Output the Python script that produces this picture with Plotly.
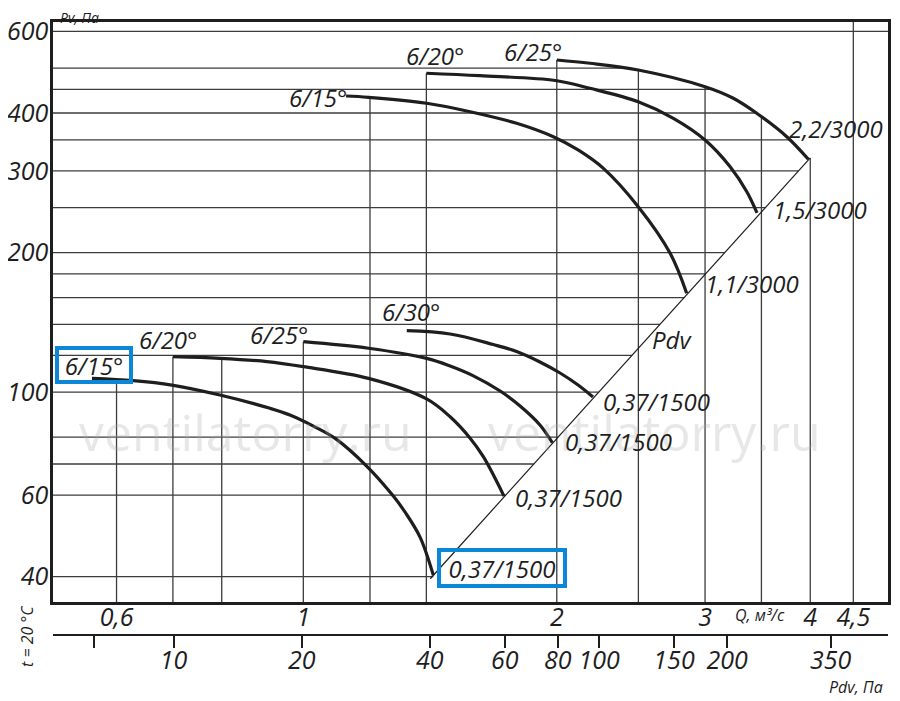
import numpy as np
import plotly.graph_objects as go

# Fan curves: Q in m3/s, Pv in Pa.
# First point = start of the curve, last point = where it meets the Pdv line.
q_15_low = [0.561, 0.628, 0.698, 0.796, 0.913, 0.964, 1.028, 1.091, 1.189, 1.279, 1.321, 1.376, 1.427]
pv_15_low = [107.1, 105.9, 103.6, 98.6, 92.3, 89.3, 84.5, 79.5, 69.3, 59.7, 55.1, 48.7, 40.3]
q_20_low = [0.700, 0.796, 0.905, 1.0, 1.195, 1.401, 1.494, 1.578, 1.636, 1.731]
pv_20_low = [119.3, 118.3, 116.4, 113.5, 107.1, 96.7, 88.5, 79.6, 72.6, 59.7]
q_25_low = [1.0, 1.195, 1.401, 1.494, 1.590, 1.713, 1.809, 1.910, 1.976]
pv_25_low = [128.5, 124.4, 118.3, 113.9, 108.6, 100.6, 93.4, 85.0, 77.8]
q_30_low = [1.327, 1.494, 1.681, 1.792, 1.910, 2.018, 2.120, 2.208]
pv_30_low = [135.7, 133.5, 126.7, 122.4, 116.2, 110.0, 103.6, 97.6]

q_15_high = [1.124, 1.195, 1.401, 1.578, 1.792, 1.981, 2.120, 2.272, 2.499, 2.727, 2.853]
pv_15_high = [435.2, 432.4, 419.8, 402.6, 380.1, 355.6, 333.0, 303.9, 251.2, 199.3, 163.4]
q_20_high = [1.4, 1.621, 1.992, 2.190, 2.499, 2.751, 3.0, 3.213, 3.363, 3.458]
pv_20_high = [487.3, 481.4, 470.1, 452.2, 423.1, 389.6, 349.9, 306.4, 270.6, 243.5]
q_25_high = [2.0, 2.190, 2.499, 3.0, 3.241, 3.455, 3.751, 3.979]
pv_25_high = [520.5, 512.1, 495.2, 455.8, 430.4, 399.5, 355.6, 317.9]

# dynamic pressure line (Pv = Pdv)
q_pdv = [1.415, 4.0]
pv_pdv = [39.6, 320.0]

# grid lines of the nomogram
grid_q = [0.6, 0.7, 0.8, 1, 1.2, 1.4, 2, 2.5, 3, 3.5, 4, 4.5]
grid_pv = [40, 60, 70, 80, 100, 120, 140, 160, 180, 200, 250, 300, 350, 400, 450, 500, 600]

# axis ticks
pv_ticks = [40, 60, 100, 200, 300, 400, 600]
q_ticks = [0.6, 1, 2, 3, 4, 4.5]
q_tick_text = ['0,6', '1', '2', '3', '4', '4,5']
pdv_ticks = [6.5, 10, 20, 40, 60, 80, 100, 150, 200, 350]
pdv_tick_text = ['', '10', '20', '40', '60', '80', '100', '150', '200', '350']

# labels
angle_low = ['6/15°', '6/20°', '6/25°', '6/30°']
angle_high = ['6/15°', '6/20°', '6/25°']
motor_low = ['0,37/1500', '0,37/1500', '0,37/1500', '0,37/1500']
motor_high = ['1,1/3000', '1,5/3000', '2,2/3000']

Q_RANGE = [-0.2973, 0.6944]     # log10
PV_RANGE = [1.5475, 2.7983]     # log10
PDV_RANGE = [0.7166, 2.679]     # log10

FONT = 'Open Sans, Liberation Sans, sans-serif'
INK = '#1e1e1e'
GRID = '#3c3c3c'
BLUE = '#0a87d6'

low = [(q_15_low, pv_15_low), (q_20_low, pv_20_low), (q_25_low, pv_25_low), (q_30_low, pv_30_low)]
high = [(q_15_high, pv_15_high), (q_20_high, pv_20_high), (q_25_high, pv_25_high)]
edges = low + high + [(q_pdv, pv_pdv)]


def q_at_level(level, q, pv):
    # Q where a curve passes a given Pv (interpolated on the log-log paper)
    lq, lp = np.log10(q), np.log10(pv)
    t = np.log10(level)
    if t < lp.min() - 0.006 or t > lp.max() + 0.006:
        return None
    order = np.argsort(lp)
    return 10 ** np.interp(t, lp[order], lq[order])


def pv_at_q(qv, q, pv):
    lq, lp = np.log10(q), np.log10(pv)
    t = np.log10(qv)
    if t < lq.min() - 0.006 or t > lq.max() + 0.006:
        return None
    return 10 ** np.interp(t, lq, lp)


q_lo, q_hi = 10 ** Q_RANGE[0], 10 ** Q_RANGE[1]
pv_lo, pv_hi = 10 ** PV_RANGE[0], 10 ** PV_RANGE[1]

# grid lines stop where they meet the curves / Pdv line
hx, hy = [], []
for p in grid_pv:
    ends = [e for e in (q_at_level(p, q, pv) for q, pv in edges) if e is not None]
    hx += [q_lo, max(ends) if ends else q_hi, None]
    hy += [p, p, None]

vx, vy = [], []
for qv in grid_q:
    tops = [t for t in (pv_at_q(qv, q, pv) for q, pv in edges) if t is not None]
    vx += [qv, qv, None]
    vy += [pv_lo, max(tops) if tops else pv_hi, None]

fig = go.Figure()
fig.add_trace(go.Scatter(x=hx, y=hy, mode='lines', line=dict(color=GRID, width=1.3),
                         hoverinfo='skip', showlegend=False))
fig.add_trace(go.Scatter(x=vx, y=vy, mode='lines', line=dict(color=GRID, width=1.3),
                         hoverinfo='skip', showlegend=False))
fig.add_trace(go.Scatter(x=q_pdv, y=pv_pdv, mode='lines', line=dict(color=INK, width=1.2),
                         hoverinfo='skip', showlegend=False))

for q, pv in low + high:
    fig.add_trace(go.Scatter(x=q, y=pv, mode='lines',
                             line=dict(color=INK, width=3.2, shape='spline', smoothing=1.0),
                             showlegend=False))

# keeps the Pdv scale alive
fig.add_trace(go.Scatter(x=pdv_ticks, y=[None] * len(pdv_ticks), xaxis='x2', yaxis='y',
                         mode='markers', hoverinfo='skip', showlegend=False))

label_font = dict(family=FONT, size=24, color=INK, style='italic')


def note(q, pv, text, **kw):
    fig.add_annotation(x=np.log10(q), y=np.log10(pv), text=text, showarrow=False,
                       font=label_font, **kw)


# watermark
for q_w in (0.853, 2.61):
    fig.add_annotation(x=np.log10(q_w), y=np.log10(82), text='ventilatorry.ru', showarrow=False,
                       font=dict(family=FONT, size=50, color='rgba(170,170,170,0.28)'))

# angle labels at curve starts
(qa, pa), (qb, pb), (qc, pc), (qd, pd) = low
note(qa[0], pa[0], angle_low[0], xanchor='center', yanchor='middle', xshift=2, yshift=13,
     width=70, height=30, bordercolor=BLUE, borderwidth=4, borderpad=0)
note(qb[0], pb[0], angle_low[1], xanchor='center', yanchor='middle', xshift=-5, yshift=17)
note(qc[0], pc[0], angle_low[2], xanchor='right', yanchor='middle', xshift=7, yshift=7)
note(qd[0], pd[0], angle_low[3], xanchor='center', yanchor='middle', xshift=4, yshift=19)

(qe, pe), (qf, pf), (qg, pg) = high
note(qe[0], pe[0], angle_high[0], xanchor='right', yanchor='middle', xshift=3, yshift=-1)
note(qf[0], pf[0], angle_high[1], xanchor='center', yanchor='middle', xshift=9, yshift=18)
note(qg[0], pg[0], angle_high[2], xanchor='right', yanchor='middle', xshift=7, yshift=8)

# motor labels at curve ends
note(qa[-1], pa[-1], motor_low[0], xanchor='left', yanchor='middle', xshift=4, yshift=7,
     width=122, height=32, bordercolor=BLUE, borderwidth=4, borderpad=0)
note(qb[-1], pb[-1], motor_low[1], xanchor='left', yanchor='middle', xshift=9, yshift=-1)
note(qc[-1], pc[-1], motor_low[2], xanchor='left', yanchor='middle', xshift=11, yshift=1)
note(qd[-1], pd[-1], motor_low[3], xanchor='left', yanchor='middle', xshift=8, yshift=-4)

note(qe[-1], pe[-1], motor_high[0], xanchor='left', yanchor='middle', xshift=16, yshift=10)
note(qf[-1], pf[-1], motor_high[1], xanchor='left', yanchor='middle', xshift=14, yshift=3)
note(qg[-1], pg[-1], motor_high[2], xanchor='left', yanchor='middle', xshift=-21, yshift=31)

note(2.58, 129.6, 'Pdv', xanchor='left', yanchor='middle')

# axis captions
captions = [('Pv, Па', 0.032, 1.0067, 0, 14), ('Pdv, Па', 0.962, 0.0045, 0, 16),
            ('Q, м³/с', 0.847, 0.1123, 0, 16), ('t = 20 °C', -0.031, 0.081, -90, 16)]
for text, px, py, ang, size in captions:
    fig.add_annotation(x=px, y=py, xref='paper', yref='paper', text=text, textangle=ang,
                       xanchor='center', yanchor='middle', showarrow=False,
                       borderpad=0, borderwidth=0,
                       font=dict(family=FONT, size=size, color=INK, style='italic'))

tick_font = dict(family=FONT, size=25, color=INK, style='italic')

# the page body adds an 8px margin, so the figure is offset to land where the chart is
fig.update_layout(
    template='none',
    width=892, height=693,
    margin=dict(l=45, r=12, t=14, b=11),
    paper_bgcolor='white', plot_bgcolor='white',
    showlegend=False,
    xaxis=dict(type='log', range=Q_RANGE, tickvals=q_ticks, ticktext=q_tick_text,
               tickfont=tick_font, ticks='', showgrid=False, zeroline=False,
               showline=True, mirror=True, linecolor=INK, linewidth=2.5,
               automargin=False, ticklabelstandoff=-9),
    yaxis=dict(type='log', range=PV_RANGE, domain=[0.1317, 1], tickvals=pv_ticks,
               tickfont=tick_font, ticks='', showgrid=False, zeroline=False,
               showline=True, mirror=True, linecolor=INK, linewidth=2.5,
               automargin=False, ticklabelstandoff=-3),
    xaxis2=dict(type='log', range=PDV_RANGE, overlaying='x', anchor='free', position=0.0823,
                side='bottom', tickvals=pdv_ticks, ticktext=pdv_tick_text, tickfont=tick_font,
                ticks='outside', ticklen=12, tickwidth=1.5, tickcolor=INK,
                showgrid=False, zeroline=False, showline=True, linecolor=INK, linewidth=2,
                automargin=False, ticklabelstandoff=-9),
)

fig.write_html("out.html")
